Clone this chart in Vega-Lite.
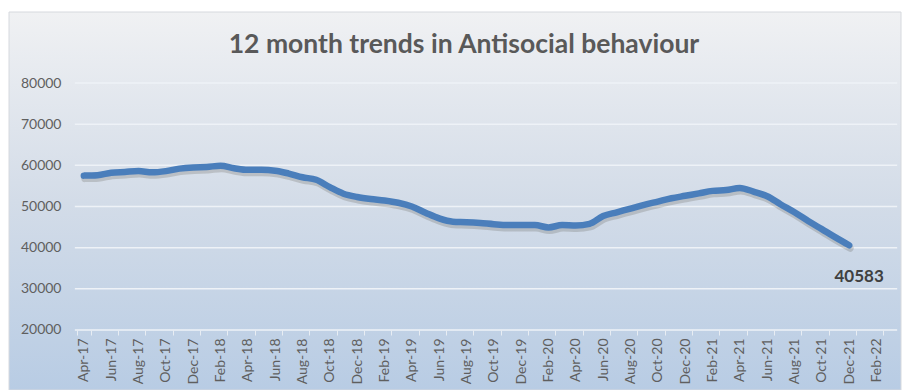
{
  "$schema": "https://vega.github.io/schema/vega-lite/v6.json",
  "autosize": "none",
  "width": 892,
  "height": 378,
  "padding": {"left": 9, "top": 12, "right": 2, "bottom": 0},
  "background": "white",
  "config": {"view": {"stroke": null}, "font": "Lato"},
  "title": {
    "text": "12 month trends in Antisocial behaviour",
    "font": "Lato",
    "fontSize": 26.5,
    "fontWeight": "bold",
    "color": "#595959",
    "anchor": "middle",
    "frame": "group",
    "offset": -47,
    "dx": 9
  },
  "datasets": {
    "series": [
      {"month": "Apr-17", "value": 57500}, {"month": "May-17", "value": 57600},
      {"month": "Jun-17", "value": 58200}, {"month": "Jul-17", "value": 58400},
      {"month": "Aug-17", "value": 58600}, {"month": "Sep-17", "value": 58300},
      {"month": "Oct-17", "value": 58600}, {"month": "Nov-17", "value": 59200},
      {"month": "Dec-17", "value": 59500}, {"month": "Jan-18", "value": 59600},
      {"month": "Feb-18", "value": 59900}, {"month": "Mar-18", "value": 59300},
      {"month": "Apr-18", "value": 58900}, {"month": "May-18", "value": 58900},
      {"month": "Jun-18", "value": 58700}, {"month": "Jul-18", "value": 58000},
      {"month": "Aug-18", "value": 57100}, {"month": "Sep-18", "value": 56500},
      {"month": "Oct-18", "value": 54700}, {"month": "Nov-18", "value": 53100},
      {"month": "Dec-18", "value": 52300}, {"month": "Jan-19", "value": 51800},
      {"month": "Feb-19", "value": 51450}, {"month": "Mar-19", "value": 50900},
      {"month": "Apr-19", "value": 50000}, {"month": "May-19", "value": 48500},
      {"month": "Jun-19", "value": 47100}, {"month": "Jul-19", "value": 46300},
      {"month": "Aug-19", "value": 46200}, {"month": "Sep-19", "value": 46000},
      {"month": "Oct-19", "value": 45700}, {"month": "Nov-19", "value": 45500},
      {"month": "Dec-19", "value": 45500}, {"month": "Jan-20", "value": 45500},
      {"month": "Feb-20", "value": 44900}, {"month": "Mar-20", "value": 45500},
      {"month": "Apr-20", "value": 45400}, {"month": "May-20", "value": 45800},
      {"month": "Jun-20", "value": 47700}, {"month": "Jul-20", "value": 48600},
      {"month": "Aug-20", "value": 49500}, {"month": "Sep-20", "value": 50400},
      {"month": "Oct-20", "value": 51200}, {"month": "Nov-20", "value": 52000},
      {"month": "Dec-20", "value": 52600}, {"month": "Jan-21", "value": 53200},
      {"month": "Feb-21", "value": 53800}, {"month": "Mar-21", "value": 54000},
      {"month": "Apr-21", "value": 54500}, {"month": "May-21", "value": 53600},
      {"month": "Jun-21", "value": 52500}, {"month": "Jul-21", "value": 50500},
      {"month": "Aug-21", "value": 48600}, {"month": "Sep-21", "value": 46500},
      {"month": "Oct-21", "value": 44500}, {"month": "Nov-21", "value": 42500},
      {"month": "Dec-21", "value": 40583}
    ],
    "grid": [
      {"value": 20000, "month": "Apr-17", "end": "Mar-22"},
      {"value": 30000, "month": "Apr-17", "end": "Mar-22"},
      {"value": 40000, "month": "Apr-17", "end": "Mar-22"},
      {"value": 50000, "month": "Apr-17", "end": "Mar-22"},
      {"value": 60000, "month": "Apr-17", "end": "Mar-22"},
      {"value": 70000, "month": "Apr-17", "end": "Mar-22"},
      {"value": 80000, "month": "Apr-17", "end": "Mar-22"}
    ]
  },
  "layer": [
    {
      "data": {"values": [{"bg": 1}]},
      "mark": {
        "type": "rect",
        "stroke": "#d6d9de",
        "strokeWidth": 1,
        "color": {
          "gradient": "linear",
          "x1": 0, "y1": 0, "x2": 0, "y2": 1,
          "stops": [
            {"offset": 0, "color": "#f0f1f3"},
            {"offset": 0.5, "color": "#d3dce8"},
            {"offset": 1, "color": "#b8cce4"}
          ]
        }
      },
      "encoding": {}
    },
    {
      "encoding": {
        "x": {
          "field": "month",
          "type": "ordinal",
          "sort": null,
          "scale": {
            "type": "band",
            "domain": ["Apr-17","May-17","Jun-17","Jul-17","Aug-17","Sep-17","Oct-17","Nov-17","Dec-17","Jan-18","Feb-18","Mar-18","Apr-18","May-18","Jun-18","Jul-18","Aug-18","Sep-18","Oct-18","Nov-18","Dec-18","Jan-19","Feb-19","Mar-19","Apr-19","May-19","Jun-19","Jul-19","Aug-19","Sep-19","Oct-19","Nov-19","Dec-19","Jan-20","Feb-20","Mar-20","Apr-20","May-20","Jun-20","Jul-20","Aug-20","Sep-20","Oct-20","Nov-20","Dec-20","Jan-21","Feb-21","Mar-21","Apr-21","May-21","Jun-21","Jul-21","Aug-21","Sep-21","Oct-21","Nov-21","Dec-21","Jan-22","Feb-22","Mar-22"],
            "range": [68, 888],
            "paddingInner": 0,
            "paddingOuter": 0
          },
          "axis": {
            "title": null,
            "orient": "bottom",
            "offset": -60,
            "zindex": 1,
            "values": ["Apr-17","Jun-17","Aug-17","Oct-17","Dec-17","Feb-18","Apr-18","Jun-18","Aug-18","Oct-18","Dec-18","Feb-19","Apr-19","Jun-19","Aug-19","Oct-19","Dec-19","Feb-20","Apr-20","Jun-20","Aug-20","Oct-20","Dec-20","Feb-21","Apr-21","Jun-21","Aug-21","Oct-21","Dec-21","Feb-22"],
            "labelAngle": -90,
            "labelFont": "Lato",
            "labelFontSize": 14,
            "labelColor": "#5f5f5f",
            "labelPadding": 3,
            "labelOverlap": false,
            "labelBound": false,
            "tickBand": "extent",
            "tickColor": "#e8edf3",
            "tickSize": 5,
            "domain": false,
            "grid": false
          }
        },
        "y": {
          "field": "value",
          "type": "quantitative",
          "scale": {"domain": [5425, 97247], "nice": false, "zero": false},
          "axis": {
            "title": null,
            "zindex": 1,
            "values": [20000, 30000, 40000, 50000, 60000, 70000, 80000],
            "format": "d",
            "offset": -52,
            "ticks": false,
            "tickSize": 0,
            "labelPadding": 0,
            "domain": false,
            "grid": false,
            "labelFont": "Lato",
            "labelFontSize": 14,
            "labelColor": "#5f5f5f"
          }
        }
      },
      "layer": [
        {
          "data": {"name": "grid"},
          "mark": {"type": "rule", "color": "#eef2f7", "strokeWidth": 1.5, "xOffset": -9, "x2Offset": 7},
          "encoding": {
            "x2": {"field": "end"}
          }
        },
        {
          "data": {"name": "series"},
          "mark": {"type": "line", "color": "#3a3020", "opacity": 0.18, "strokeWidth": 7, "interpolate": "monotone", "strokeCap": "round", "strokeJoin": "round", "yOffset": 3, "xOffset": 1}
        },
        {
          "data": {"name": "series"},
          "mark": {"type": "line", "color": "#4a7ebb", "strokeWidth": 6.5, "interpolate": "monotone", "strokeCap": "round", "strokeJoin": "round"}
        },
        {
          "data": {"name": "series"},
          "transform": [{"filter": "datum.month === 'Dec-21'"}],
          "mark": {"type": "text", "font": "Lato", "fontSize": 17, "fontWeight": "bold", "color": "#404040", "dx": 10, "dy": 32},
          "encoding": {
            "text": {"field": "value", "type": "quantitative", "format": "d"}
          }
        }
      ]
    }
  ]
}
